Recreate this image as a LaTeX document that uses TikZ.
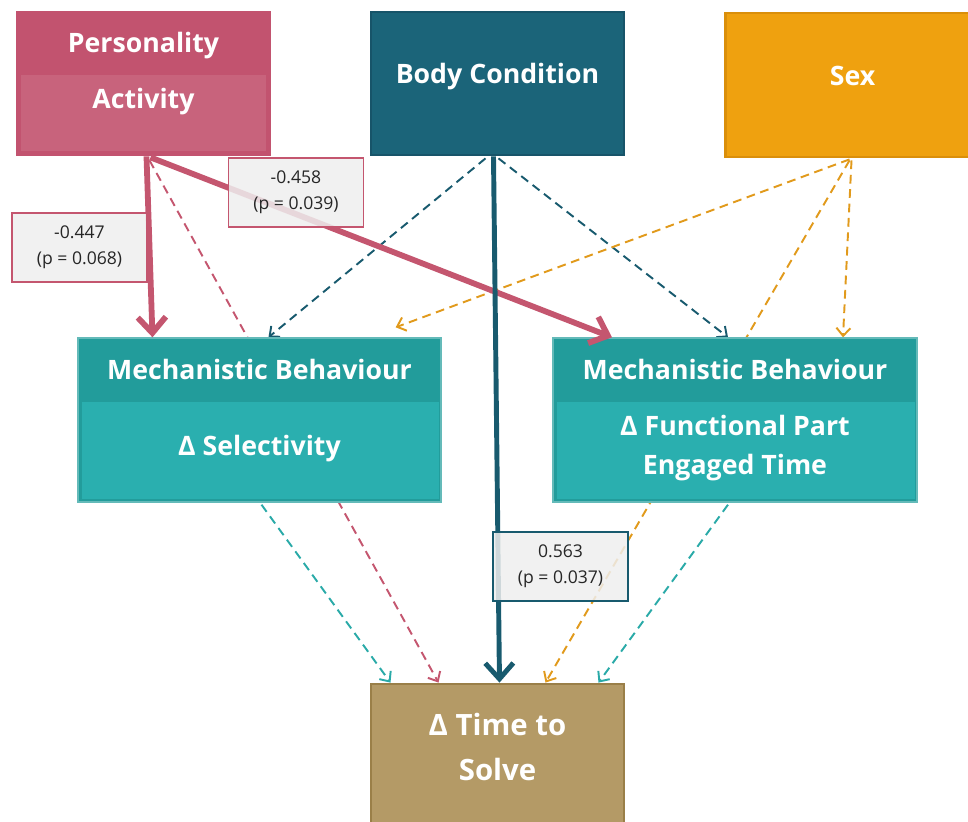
\documentclass[tikz,border=0pt]{standalone}
\usepackage{fontspec}
\setmainfont{Open Sans}
\usetikzlibrary{arrows.meta,calc,positioning}
\definecolor{persdark}{HTML}{C2536F}
\definecolor{perslight}{HTML}{C8637C}
\definecolor{bodyfill}{HTML}{1B6479}
\definecolor{bodyline}{HTML}{175469}
\definecolor{sexfill}{HTML}{EFA10F}
\definecolor{sexline}{HTML}{DA8F0B}
\definecolor{mechdark}{HTML}{229C9B}
\definecolor{mechlight}{HTML}{2AAFAF}
\definecolor{timefill}{HTML}{B49A66}
\definecolor{timeline}{HTML}{9A7F48}
\definecolor{arrpink}{HTML}{C4566F}
\definecolor{arrteal}{HTML}{185A6E}
\definecolor{arrorange}{HTML}{E19A1C}
\definecolor{arrcyan}{HTML}{2AAAA8}
\definecolor{labelfill}{HTML}{EEEEEE}
\pgfdeclarelayer{behind}
\pgfsetlayers{behind,main}

\begin{document}
\begin{tikzpicture}[x=0.02cm,y=-0.02cm,
    bigbox/.style={draw, line width=1.6pt, inner sep=0pt},
    boxtext/.style={text=white, font=\bfseries\fontsize{15.2}{18}\selectfont, align=center},
    coef/.style={draw, line width=1.1pt, fill=labelfill, fill opacity=0.85, text opacity=1, text=black!85, font=\fontsize{10}{15}\selectfont, align=center, minimum width=2.7cm, minimum height=1.38cm, inner sep=0pt},
    dashpath/.style={line width=1.1pt, dash pattern=on 5pt off 3.2pt, -{Straight Barb[length=4.5pt,width=8pt,line width=1.1pt]}},
    thickpath/.style={line width=#1, -{Straight Barb[length=9pt,width=16pt,line width=#1]}}]

    \useasboundingbox (0,0) rectangle (968,822);

    % Draw the predictor boxes
    \node[bigbox, draw=persdark, fill=persdark, minimum width=5.06cm, minimum height=2.86cm] (pers) at (143.5,83.5) {};
    \fill[perslight] ($(pers.south west)+(5,-5)$) rectangle ($(pers.east)+(-5,-8.5)$);
    \node[boxtext] (perstop) at ($(pers.north)+(0,35)$) {Personality};
    \node[boxtext] (perssub) at ($(pers.north)+(0,91)$) {Activity};

    \node[bigbox, draw=bodyline, fill=bodyfill, minimum width=5.06cm, minimum height=2.86cm] (body) at (497.5,83.5) {};
    \node[boxtext] (bodytext) at ($(body)+(0,-7)$) {Body Condition};

    \node[bigbox, draw=sexline, fill=sexfill, minimum width=5.08cm, minimum height=2.88cm] (sex) at (852.5,85) {};
    \node[boxtext] (sextext) at ($(sex)+(0,-9)$) {Sex};

    % Draw the mechanistic behaviour boxes
    \node[bigbox, draw=mechdark!70!white, line width=0.8pt, fill=mechdark, minimum width=7.26cm, minimum height=3.28cm] (sel) at (259.5,420) {};
    \fill[mechlight] ($(sel.south west)+(5,-4)$) rectangle ($(sel.east)+(-3,-18)$);
    \node[boxtext] (seltop) at ($(sel.north)+(0,32)$) {Mechanistic Behaviour};
    \node[boxtext] (selsub) at ($(sel.north)+(0,111)$) {Δ Selectivity};

    \node[bigbox, draw=mechdark!70!white, line width=0.8pt, fill=mechdark, minimum width=7.28cm, minimum height=3.28cm] (fp) at (735,420) {};
    \fill[mechlight] ($(fp.south west)+(5,-4)$) rectangle ($(fp.east)+(-3,-18)$);
    \node[boxtext] (fptop) at ($(fp.north)+(0,32)$) {Mechanistic Behaviour};
    \node[boxtext] (fpsub) at ($(fp.north)+(0,111)$) {Δ Functional Part\\[4pt]Engaged Time};

    % Draw the outcome box
    \node[bigbox, draw=timeline, fill=timefill, minimum width=5.06cm, minimum height=2.84cm] (time) at (497.5,755) {};
    \node[boxtext, font=\bfseries\fontsize{16.7}{25.5}\selectfont] (timetext) at ($(time.north)+(0,64)$) {Δ Time to\\Solve};

    % Dashed paths, behind the boxes
    \begin{pgfonlayer}{behind}
    \draw[dashpath, arrpink] ($(pers.south)+(6,4)$) -- ($(time.north)+(-59,0)$);
    \draw[dashpath, arrteal] ($(body.south)+(-12,2)$) -- ($(sel.north)+(9,0)$);
    \draw[dashpath, arrteal] ($(body.south)+(1,2)$) -- ($(fp.north)+(-7,0)$);
    \draw[dashpath, arrorange] ($(sex.south)+(-3,1)$) -- ($(sel.north east)+(-46,-10)$);
    \draw[dashpath, arrorange] ($(sex.south)+(-1,2)$) -- ($(fp.north)+(108,0)$);
    \draw[dashpath, arrorange] ($(sex.south)+(-3,2)$) -- ($(time.north)+(48,0)$);
    \draw[dashpath, arrcyan] ($(sel.south)+(2,2)$) -- ($(time.north)+(-107,0)$);
    \draw[dashpath, arrcyan] ($(fp.south)+(-7,2)$) -- ($(time.north)+(101,0)$);
    \end{pgfonlayer}

    % Solid paths
    \draw[thickpath=3.3pt, arrpink] ($(pers.south)+(3,0)$) -- ($(sel.north)+(-107,0)$);
    \draw[thickpath=3.3pt, arrpink] ($(pers.south)+(7,1)$) -- ($(fp.north)+(-123,0)$);
    \draw[thickpath=2.8pt, arrteal] ($(body.south)+(-4,0)$) -- ($(time.north)+(2,0)$);

    % Coefficient labels
    \node[coef, draw=arrpink] (coefsel) at (79.5,247.5) {-0.447\\(p = 0.068)};
    \node[coef, draw=arrpink] (coeffp) at (296,192.5) {-0.458\\(p = 0.039)};
    \node[coef, draw=arrteal] (coeftime) at (560.5,566.5) {0.563\\(p = 0.037)};

\end{tikzpicture}
\end{document}
